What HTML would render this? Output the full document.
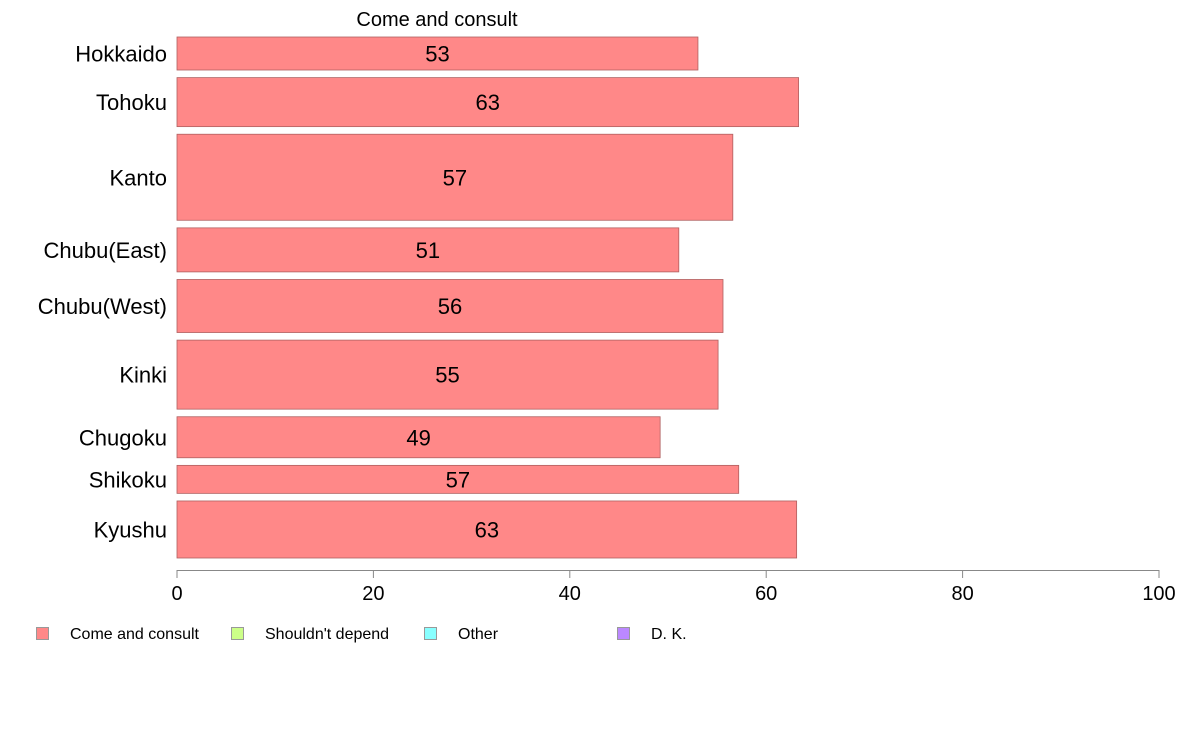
<!DOCTYPE html>
<html><head><meta charset="utf-8"><style>
body{margin:0;background:#fff;}
svg{display:block;font-family:"Liberation Sans",Arial,sans-serif;}
</style></head><body>
<svg id="chart" width="1188" height="736">
<text x="437" y="26" font-size="20" text-anchor="middle" fill="#000">Come and consult</text>
<g id="bars"></g>
<g id="axis"></g>
<g id="legend"></g>
</svg>
<script>
const categories = ["Hokkaido","Tohoku","Kanto","Chubu(East)","Chubu(West)","Kinki","Chugoku","Shikoku","Kyushu"];
const values = [53.05, 63.3, 56.6, 51.1, 55.6, 55.1, 49.2, 57.2, 63.1];
const labels = ["53","63","57","51","56","55","49","57","63"];
const weights = [33, 49, 86, 44, 53, 69, 41, 28, 57];
const ticks = [0,20,40,60,80,100];
const legendNames = ["Come and consult","Shouldn't depend","Other","D. K."];
const legendColors = ["#ff8888","#ccff88","#88ffff","#bb88ff"];

const NS = "http://www.w3.org/2000/svg";
const x0 = 177, x1 = 1159;
const xs = v => x0 + (x1 - x0) * v / 100;
const yTop = 37, yBot = 558, gap = 7.6;
const totalW = weights.reduce((a,b)=>a+b,0);
const avail = yBot - yTop - gap * (weights.length - 1);
function mk(tag, attrs, parent){const e=document.createElementNS(NS,tag);for(const k in attrs)e.setAttribute(k,attrs[k]);parent.appendChild(e);return e;}

const gb = document.getElementById("bars");
let y = yTop;
categories.forEach((c,i)=>{
  const h = avail * weights[i] / totalW;
  const r = mk("rect",{x:x0,y:y,width:xs(values[i])-x0,height:h,fill:"#ff8888",stroke:"#b06060","stroke-width":0.8},gb);
  
  
  const t = mk("text",{x:(x0+xs(values[i]))/2,y:y+h/2+8,"font-size":22,"text-anchor":"middle",fill:"#000"},gb);
  t.textContent = labels[i];
  
  
  const l = mk("text",{x:167,y:y+h/2+8,"font-size":22,"text-anchor":"end",fill:"#000"},gb);
  l.textContent = c;
  
  
  y += h + gap;
});

const ga = document.getElementById("axis");
const al = mk("line",{x1:x0,x2:x1,y1:570.5,y2:570.5,stroke:"#888","stroke-width":1},ga);


ticks.forEach(t=>{
  const tl = mk("line",{x1:xs(t),x2:xs(t),y1:570,y2:578,stroke:"#888","stroke-width":1},ga);
  
  
  const tx = mk("text",{x:xs(t),y:600,"font-size":20,"text-anchor":"middle",fill:"#000"},ga);
  tx.textContent = t;
  
  
});

const gl = document.getElementById("legend");
const lx = [36, 231, 424, 617];
legendNames.forEach((n,i)=>{
  const r = mk("rect",{x:lx[i]+0.5,y:627.5,width:12,height:12,fill:legendColors[i],stroke:"#999","stroke-width":1},gl);
  
  
  const t = mk("text",{x:lx[i]+34,y:639,"font-size":16,fill:"#000"},gl);
  t.textContent = n;
  
  
});
</script>
</body></html>
